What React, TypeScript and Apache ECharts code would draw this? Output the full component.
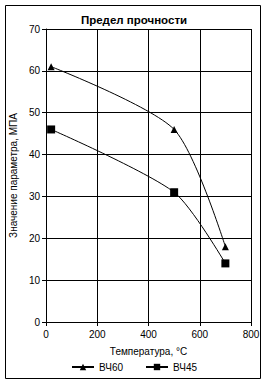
import React, { useEffect, useRef } from "react";
import * as echarts from "echarts";

const seriesNames = ["ВЧ60", "ВЧ45"];
const temps = [20, 500, 700];
const vch60 = [61, 46, 18];
const vch45 = [46, 31, 14];
const title = "Предел прочности";
const xName = "Температура, °С";
const yName = "Значение параметра, МПА";

export default function App() {
  const ref = useRef<HTMLDivElement>(null);
  useEffect(() => {
    const chart = echarts.init(ref.current!, null, { renderer: "svg" });
    const font = "Liberation Sans, Arial, sans-serif";
    chart.setOption({
      animation: false,
      backgroundColor: "#fff",
      title: {
        text: title,
        left: "center",
        top: 9,
        textStyle: { fontFamily: font, fontSize: 11.5, fontWeight: "bold", color: "#000" },
      },
      graphic: [
        {
          type: "rect",
          shape: { x: 5.5, y: 5.5, width: 255, height: 373 },
          style: { fill: "none", stroke: "#000", lineWidth: 1 },
          silent: true,
        },
      ],
      grid: { left: 39, right: 17, top: 29, bottom: 64 },
      legend: {
        bottom: 9,
        left: "center",
        itemWidth: 22,
        itemHeight: 8,
        itemGap: 22,
        textStyle: { fontFamily: font, fontSize: 10, color: "#000" },
        data: seriesNames,
      },
      xAxis: {
        type: "value",
        min: 0,
        max: 800,
        interval: 200,
        name: xName,
        nameLocation: "middle",
        nameGap: 24,
        nameTextStyle: { fontFamily: font, fontSize: 10, color: "#000" },
        axisLine: { lineStyle: { color: "#000", width: 1 } },
        axisTick: { show: true, length: 4, lineStyle: { color: "#000" } },
        axisLabel: { fontFamily: font, fontSize: 10, color: "#000", margin: 7 },
        splitLine: { show: true, lineStyle: { color: "#000", width: 1 } },
      },
      yAxis: {
        type: "value",
        min: 0,
        max: 70,
        interval: 10,
        name: yName,
        nameLocation: "middle",
        nameGap: 24,
        nameTextStyle: { fontFamily: font, fontSize: 10, color: "#000" },
        axisLine: { show: true, lineStyle: { color: "#000", width: 1 } },
        axisTick: { show: true, length: 4, lineStyle: { color: "#000" } },
        axisLabel: { fontFamily: font, fontSize: 10, color: "#000", margin: 6 },
        splitLine: { show: true, lineStyle: { color: "#000", width: 1 } },
      },
      series: [
        {
          name: seriesNames[0],
          type: "line",
          smooth: 0.25,
          symbol: "triangle",
          symbolSize: 7,
          data: temps.map((t, i) => [t, vch60[i]]),
          lineStyle: { color: "#000", width: 1 },
          itemStyle: { color: "#000" },
        },
        {
          name: seriesNames[1],
          type: "line",
          smooth: 0.25,
          symbol: "rect",
          symbolSize: 8,
          data: temps.map((t, i) => [t, vch45[i]]),
          lineStyle: { color: "#000", width: 1 },
          itemStyle: { color: "#000" },
        },
      ],
    });
    return () => chart.dispose();
  }, []);
  return (
    <div
      ref={ref}
      style={{ position: "absolute", left: 0, top: 0, width: 268, height: 386 }}
    />
  );
}
